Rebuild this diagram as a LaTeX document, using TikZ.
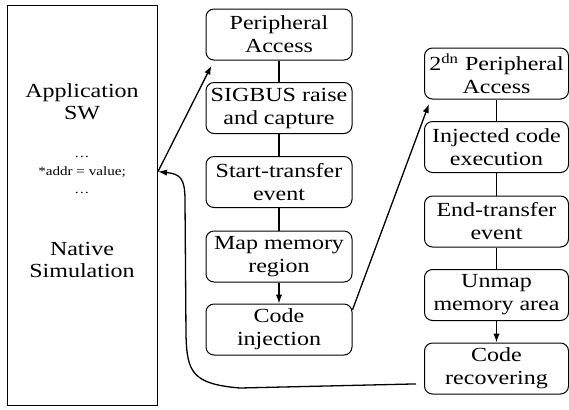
\documentclass[tikz,border=0pt]{standalone}
\usepackage{fontspec}
\setmainfont{Liberation Serif}[FakeStretch=1.2]
\usetikzlibrary{arrows.meta}
\tikzset{
  stage/.style={draw, line width=0.5pt, rounded corners=4pt, minimum width=73pt,
    minimum height=25.5pt, inner sep=1pt, align=center,
    font=\fontsize{10}{11.5}\selectfont},
  link/.style={line width=0.65pt},
  tip/.style={-{Latex[length=4.5pt,width=3.2pt]}}
}
\begin{document}
\begin{tikzpicture}[x=0.5pt,y=-0.5pt]
      \useasboundingbox (0,0) rectangle (569,409);
      % application side
      \node[draw, line width=0.5pt, minimum width=75pt, minimum height=200pt] (app) at (82.5,205) {};
      \node[align=center, font=\fontsize{10}{11}\selectfont] (appsw) at (82,102) {Application\\SW};
      \node[anchor=base, font=\fontsize{6.3}{7}\selectfont] (dots1) at (82,157) {\dots};
      \node[anchor=base, font=\fontsize{6.3}{7}\selectfont] (code) at (82,175) {*addr = value;};
      \node[anchor=base, font=\fontsize{6.3}{7}\selectfont] (dots2) at (82,193) {\dots};
      \node[align=center, font=\fontsize{10}{11}\selectfont] (natsim) at (82,260) {Native\\Simulation};
      % first access
      \node[stage] (m1) at (279,34.5) {Peripheral\\Access};
      \node[stage] (m2) at (279,108) {SIGBUS raise\\and capture};
      \node[stage] (m3) at (279,182) {Start-transfer\\event};
      \node[stage] (m4) at (279,256.5) {Map memory\\region};
      \node[stage] (m5) at (279,329.5) {Code\\injection};
      % second access
      \node[stage, minimum width=72pt] (r1) at (496.5,73.5) {2\textsuperscript{dn} Peripheral\\Access};
      \node[stage, minimum width=72pt] (r2) at (496.5,147) {Injected code\\execution};
      \node[stage, minimum width=72pt] (r3) at (496.5,221.5) {End-transfer\\event};
      \node[stage, minimum width=72pt] (r4) at (496.5,295) {Unmap\\memory area};
      \node[stage, minimum width=72pt] (r5) at (496.5,368.5) {Code\\recovering};
      \begin{scope}[link]
        \draw (m1) to (m2);
        \draw (m2) to (m3);
        \draw (m3) to (m4);
        \draw[tip] (m4) to (m5);
        \draw (r1) to (r2);
        \draw (r2) to (r3);
        \draw (r3) to (r4);
        \draw[tip] (r4) to (r5);
        \draw[tip] (app.east |- code) to ([xshift=3pt,yshift=-2.5pt]m1.south west);
        \draw[tip] (m5.15) to ([xshift=2.5pt,yshift=-2.2pt]r1.south west);
        \draw[tip] ([xshift=-4pt]r5.192) -- (240,388)
          .. controls (192,384) and (187,372) .. (186,335) -- (185,200)
          .. controls (185,178) and (180,174) .. (app.east |- code);
      \end{scope}
    \end{tikzpicture}
\end{document}
